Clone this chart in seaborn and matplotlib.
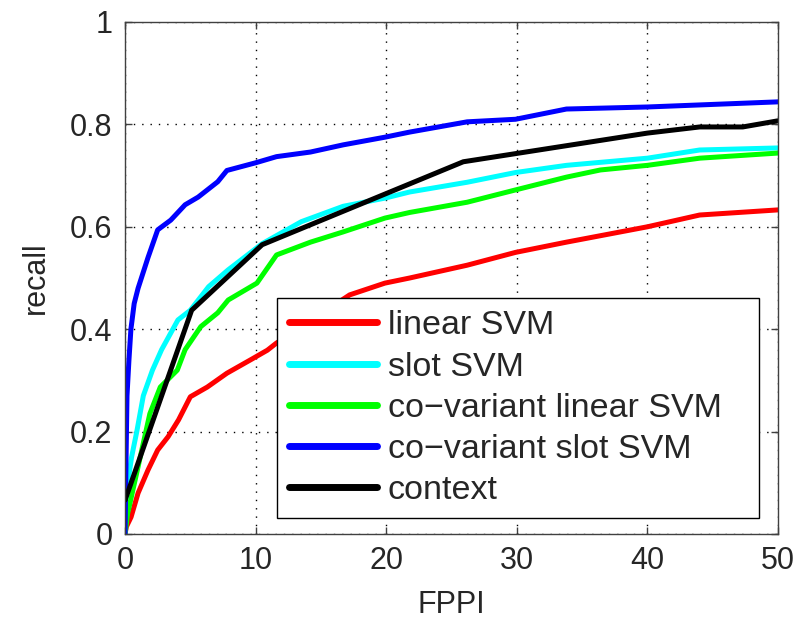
import matplotlib
matplotlib.use("Agg")
import matplotlib.pyplot as plt
import seaborn as sns
import pandas as pd

# --- curve data (FPPI vs recall) ---
linear_x = [0, 0.1, 0.46, 1.0, 1.76, 2.5, 3.3, 4.1, 5.0, 6.3, 7.8, 9.6, 10.9, 11.6,
            13.0, 15.0, 17.2, 19.9, 21.8, 26.2, 29.9, 33.8, 40.0, 44.0, 50.0]
linear_y = [0, 0.014, 0.033, 0.08, 0.125, 0.164, 0.19, 0.223, 0.268, 0.287, 0.314, 0.34,
            0.359, 0.373, 0.395, 0.43, 0.467, 0.49, 0.5, 0.525, 0.55, 0.57, 0.6, 0.623, 0.633]

slot_x = [0, 0.1, 0.5, 0.9, 1.4, 2.1, 2.8, 4.05, 5.0, 6.4, 7.9, 10.5, 13.5, 16.7, 19.9,
          21.8, 26.2, 29.9, 33.8, 40.0, 44.0, 50.0]
slot_y = [0, 0.08, 0.15, 0.2, 0.27, 0.32, 0.36, 0.418, 0.437, 0.483, 0.516, 0.567, 0.61,
          0.64, 0.656, 0.668, 0.687, 0.706, 0.72, 0.734, 0.75, 0.754]

covlin_x = [0, 0.2, 0.9, 1.9, 2.7, 4.0, 4.6, 5.8, 7.1, 7.9, 10.1, 11.6, 14.2, 16.7, 19.9,
            21.8, 26.2, 29.9, 33.8, 36.4, 40.0, 44.0, 50.0]
covlin_y = [0, 0.04, 0.12, 0.235, 0.287, 0.32, 0.36, 0.405, 0.432, 0.457, 0.49, 0.545,
            0.57, 0.59, 0.617, 0.628, 0.648, 0.672, 0.697, 0.711, 0.72, 0.734, 0.744]

covslot_x = [0, 0.08, 0.15, 0.3, 0.45, 0.7, 1.0, 1.76, 2.5, 3.5, 4.6, 5.6, 7.1, 7.8, 10.0,
             11.6, 14.2, 16.7, 19.9, 21.8, 26.2, 29.9, 33.8, 40.0, 44.0, 50.0]
covslot_y = [0, 0.15, 0.27, 0.34, 0.4, 0.45, 0.48, 0.54, 0.594, 0.613, 0.643, 0.658, 0.688,
             0.71, 0.725, 0.737, 0.746, 0.76, 0.775, 0.785, 0.805, 0.81, 0.83, 0.834,
             0.838, 0.844]

context_x = [0, 5.1, 10.5, 25.9, 40.0, 44.0, 47.3, 50.0]
context_y = [0.066, 0.437, 0.565, 0.727, 0.783, 0.795, 0.795, 0.807]

series = [
    ("linear SVM", linear_x, linear_y, "#ff0000"),
    ("slot SVM", slot_x, slot_y, "#00ffff"),
    ("co\u2212variant linear SVM", covlin_x, covlin_y, "#00ff00"),
    ("co\u2212variant slot SVM", covslot_x, covslot_y, "#0000ff"),
    ("context", context_x, context_y, "#000000"),
]

sns.set_style("ticks")
plt.rcParams["font.family"] = ["Liberation Sans", "DejaVu Sans"]
plt.rcParams["xtick.direction"] = "in"
plt.rcParams["ytick.direction"] = "in"

fig = plt.figure(figsize=(8.02, 6.21), dpi=100)
ax = fig.add_axes([0.1559, 0.1401, 0.8142, 0.8245])

for name, xs, ys, col in series:
    df = pd.DataFrame({"FPPI": xs, "recall": ys})
    sns.lineplot(data=df, x="FPPI", y="recall", color=col, linewidth=3.6,
                 label=name, ax=ax, sort=False)

ax.set_xlim(0, 50)
ax.set_ylim(0, 1)
ax.set_xticks([0, 10, 20, 30, 40, 50])
ax.set_yticks([0, 0.2, 0.4, 0.6, 0.8, 1.0])
ax.set_yticklabels(["0", "0.2", "0.4", "0.6", "0.8", "1"])
ax.grid(True, linestyle=(0, (1, 5)), color="black", linewidth=1.0)
ax.tick_params(labelsize=22, top=True, right=True, length=5, width=1, color="#404040",
               pad=9)
for s in ax.spines.values():
    s.set_color("#404040")
    s.set_linewidth(1.0)
ax.set_xlabel("FPPI", fontsize=22, labelpad=10)
ax.set_ylabel("recall", fontsize=22, labelpad=14)

leg = ax.legend(loc="lower left", bbox_to_anchor=(0.2328, 0.031, 0.738, 0.43),
                mode="expand", fontsize=24.5, handlelength=2.6, labelspacing=0.3,
                borderpad=0.35, handletextpad=0.3, borderaxespad=0, fancybox=False,
                framealpha=1, edgecolor="black")
leg.get_frame().set_linewidth(1.0)
for ln in leg.get_lines():
    ln.set_linewidth(5)

fig.savefig("out.png", dpi=100)
